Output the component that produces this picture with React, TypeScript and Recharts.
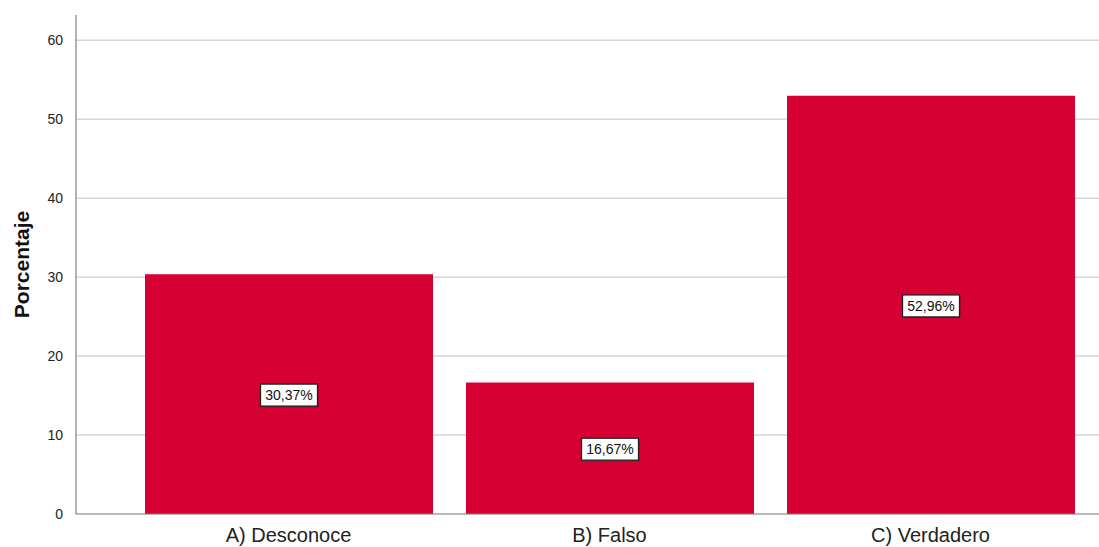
import { BarChart, Bar, XAxis, YAxis, CartesianGrid, LabelList } from 'recharts'

const categories = ['A) Desconoce', 'B) Falso', 'C) Verdadero']
const percentages = [30.37, 16.67, 52.96]
const yTicks = [0, 10, 20, 30, 40, 50, 60]
const gridValues = [10, 20, 30, 40, 50, 60]

const data = categories.map((name, i) => ({ name, value: percentages[i] }))

const FONT = 'Arial, "Liberation Sans", Helvetica, sans-serif'

function ValueTag(props: any) {
  const { x, y, width, height, value } = props
  const cx = x + width / 2
  const cy = y + height / 2 + 1
  const text = `${Number(value).toFixed(2).replace('.', ',')}%`
  const w = text.length * 8 + 9
  const h = 22
  return (
    <g>
      <rect x={cx - w / 2 + 1} y={cy - h / 2 + 1} width={w} height={h} fill="#5a0a1c" opacity={0.5} />
      <rect x={cx - w / 2} y={cy - h / 2} width={w} height={h} fill="#ffffff" stroke="#222" strokeWidth={1.3} />
      <text x={cx} y={cy} textAnchor="middle" dominantBaseline="central" fontSize={14} fontFamily={FONT} fill="#111">
        {text}
      </text>
    </g>
  )
}

function AxisTitle(props: any) {
  const vb = props.viewBox || { y: 15, height: 499 }
  const cy = vb.y + vb.height / 2
  return (
    <text
      x={21}
      y={cy}
      transform={`rotate(-90, 21, ${cy})`}
      textAnchor="middle"
      dominantBaseline="central"
      fontSize={21}
      fontWeight="bold"
      fontFamily={FONT}
      fill="#111"
    >
      Porcentaje
    </text>
  )
}

export default function App() {
  return (
    <div style={{ position: 'absolute', left: 0, top: 0, background: '#fff' }}>
      <BarChart width={1099} height={547} data={data} margin={{ top: 15, right: 0, left: 0, bottom: 0 }}>
        <CartesianGrid vertical={false} horizontalValues={gridValues} stroke="#d6d6d6" strokeWidth={1.5} />
        <XAxis
          dataKey="name"
          height={33}
          padding={{ left: 52, right: 8 }}
          axisLine={{ stroke: '#777', strokeWidth: 1.2 }}
          tickLine={false}
          tick={{ fontSize: 20, fill: '#222', fontFamily: FONT }}
          tickMargin={8}
        />
        <YAxis
          width={76}
          domain={[0, 63.2]}
          ticks={yTicks}
          interval={0}
          axisLine={{ stroke: '#999', strokeWidth: 1.5 }}
          tickLine={false}
          tick={{ fontSize: 14, fill: '#222', fontFamily: FONT }}
          tickMargin={7}
          label={<AxisTitle />}
        />
        <Bar dataKey="value" fill="#d70032" barSize={288} isAnimationActive={false}>
          <LabelList dataKey="value" content={<ValueTag />} />
        </Bar>
      </BarChart>
    </div>
  )
}
